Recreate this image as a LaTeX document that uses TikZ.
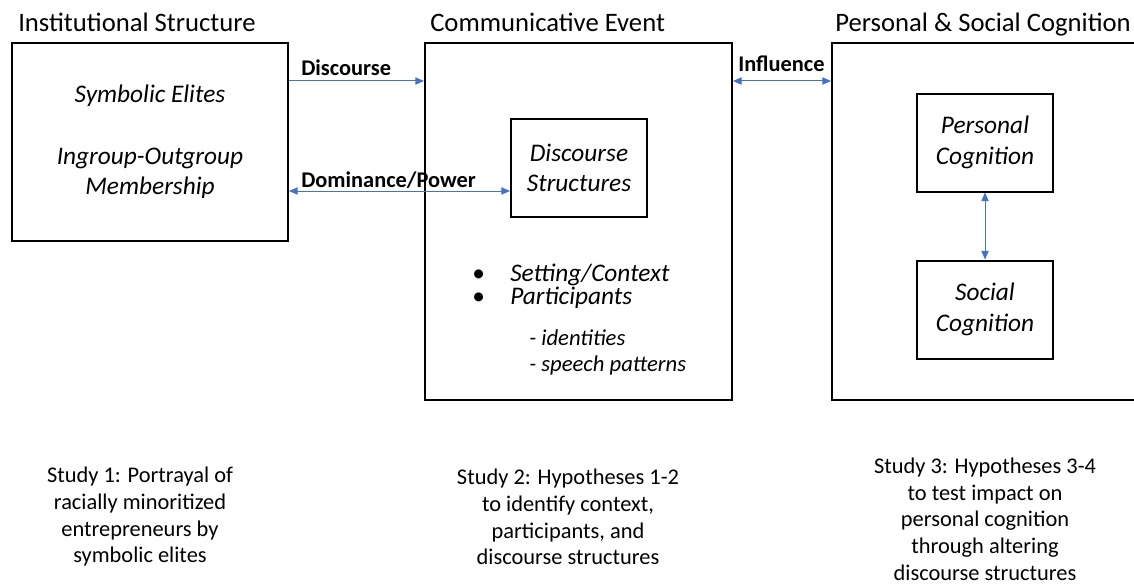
\documentclass[tikz,border=0pt]{standalone}
\usepackage{fontspec}
\setmainfont{Carlito}
\definecolor{linkblue}{RGB}{68, 114, 196}
\usetikzlibrary{arrows.meta, positioning}
\tikzset{
  framebox/.style={draw=black, line width=1.5pt, inner sep=0pt},
  conceptbox/.style={draw=black, line width=1.5pt, inner sep=0pt, align=center,
    minimum width=102pt, minimum height=73.5pt, font=\fontsize{19}{23}\selectfont\itshape},
  heading/.style={anchor=base west, inner sep=0pt, font=\fontsize{20}{24}\selectfont},
  linklabel/.style={anchor=base west, inner sep=0pt, font=\fontsize{16.8}{20}\selectfont\bfseries},
  item/.style={anchor=base west, inner sep=0pt, font=\fontsize{19}{23}\selectfont},
  subitem/.style={anchor=base west, inner sep=0pt, font=\fontsize{17}{20}\selectfont\itshape},
  study/.style={align=center, inner sep=0pt, font=\fontsize{16.8}{20}\selectfont},
  link/.style={draw=linkblue, line width=0.75pt},
}

\begin{document}
\begin{tikzpicture}[x=0.75pt, y=-0.75pt, >={Triangle[length=6.5pt, width=5.5pt]}]
  \useasboundingbox (0,0) rectangle (1134,585);

  % Headings
  \node[heading] (insttitle) at (18,32) {Institutional Structure};
  \node[heading] (commtitle) at (430,32) {Communicative Event};
  \node[heading] (cogtitle) at (835,32) {Personal \& Social Cognition};

  % Institutional structure
  \node[framebox, minimum width=207pt, minimum height=148.5pt, align=center,
    font=\fontsize{19}{23}\selectfont\itshape] (inst) at (150,142)
    {Symbolic Elites\\[23pt]Ingroup-Outgroup\\Membership};

  % Communicative event
  \node[framebox, minimum width=230.25pt, minimum height=267.75pt] (comm) at (578.5,221.5) {};
  \node[conceptbox] (dstruct) at (579,168) {Discourse\\Structures};
  \node[item] (setting) at (472,281) {\makebox[28.5pt][l]{\textbullet}\textit{Setting/Context}};
  \node[item] (partic) at (472,304) {\makebox[28.5pt][l]{\textbullet}\textit{Participants}};
  \node[subitem] (ident) at (529,345) {- identities};
  \node[subitem] (speech) at (529,371) {- speech patterns};

  % Personal & social cognition
  \node[framebox, minimum width=234.75pt, minimum height=267.75pt] (cog) at (988.5,221.5) {};
  \node[conceptbox] (pers) at (985,142.5) {Personal\\Cognition};
  \node[conceptbox] (soc) at (985,309.5) {Social\\Cognition};

  % Connectors
  \draw[link, ->] (inst.east |- 0,81) -- (comm.west |- 0,81);
  \node[linklabel] (disclabel) at (301,75) {Discourse};
  \draw[link, <->] (inst.east |- 0,191) -- (dstruct.west |- 0,191);
  \node[linklabel] (domlabel) at (301,187) {Dominance/Power};
  \draw[link, <->] (comm.east |- 0,81) -- (cog.west |- 0,81);
  \node[linklabel] (inflabel) at (738,72) {Influence};
  \draw[link, <->] (pers) -- (soc);

  % Studies
  \node[study] (study1) at (140,517) {Study 1: Portrayal of\\racially minoritized\\entrepreneurs by\\symbolic elites};
  \node[study] (study2) at (568,517) {Study 2: Hypotheses 1-2\\to identify context,\\participants, and\\discourse structures};
  \node[study] (study3) at (985,519) {Study 3: Hypotheses 3-4\\to test impact on\\personal cognition\\through altering\\discourse structures};
\end{tikzpicture}
\end{document}
